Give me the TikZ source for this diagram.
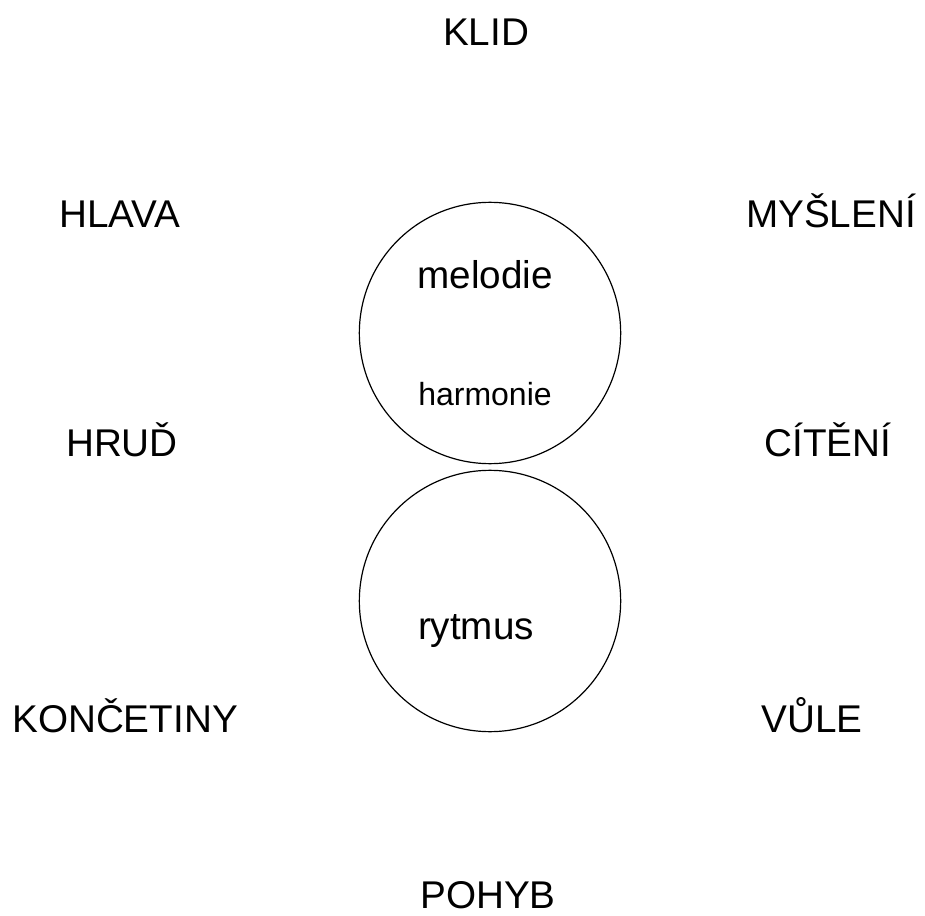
\documentclass[tikz,border=0pt]{standalone}
\usepackage{fontspec}
\setmainfont{Liberation Sans}
\usepackage{tikz}

\tikzset{
  popis/.style={anchor=base,inner sep=0pt,font=\fontsize{29}{34}\selectfont},
  malypopis/.style={anchor=base,inner sep=0pt,font=\fontsize{24}{28}\selectfont},
  kruh/.style={draw,circle,line width=0.9pt,minimum size=196pt,inner sep=0pt}
}

\begin{document}
\begin{tikzpicture}[x=0.75pt,y=-0.75pt]
   	\useasboundingbox (0,0) rectangle (925,916);

	%Kruhy uprostred
   	\node[kruh] (horni) at (490,333) {};
   	\node[kruh] (dolni) at (490,601) {};

	%Texty v kruzich
   	\node[popis] (melodie) at (485,289) {melodie};
   	\node[malypopis] (harmonie) at (485,405) {harmonie};
   	\node[popis] (rytmus) at (476,639) {rytmus};

	%Nahore a dole
   	\node[popis] (klid) at (486,46) {KLID};
   	\node[popis,text depth=0pt] (pohyb) at (488,908) {POHYB};

	%Leva strana
   	\node[popis] (hlava) at (120,228) {HLAVA};
   	\node[popis] (hrud) at (122,456) {HRUĎ};
   	\node[popis] (koncetiny) at (125,732) {KONČETINY};

	%Prava strana
   	\node[popis] (mysleni) at (831,228) {MYŠLENÍ};
   	\node[popis] (citeni) at (828,456) {CÍTĚNÍ};
   	\node[popis] (vule) at (812,732) {VŮLE};
\end{tikzpicture}
\end{document}
